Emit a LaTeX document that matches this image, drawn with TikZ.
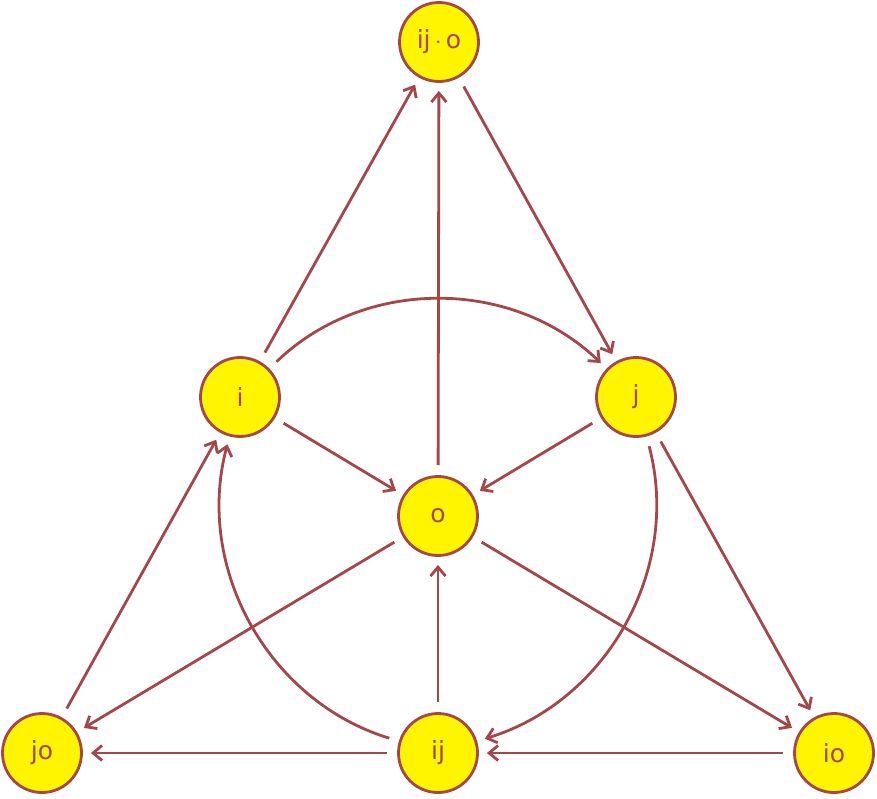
\documentclass[tikz,border=0pt]{standalone}
\usepackage{fontspec}
\setmainfont{DejaVu Sans}
\usetikzlibrary{arrows.meta}
\definecolor{edge}{RGB}{165,70,72}
\definecolor{fillc}{RGB}{255,245,0}
\begin{document}
\begin{tikzpicture}[x=1pt,y=-1pt,
  vert/.style={circle,draw=edge,line width=2.8pt,fill=fillc,minimum size=79pt,inner sep=0pt,text=edge,font=\fontsize{25}{25}\selectfont},
  conn/.style={draw=edge,line width=2.8pt,-{Straight Barb[length=9pt,width=15pt,line width=2.8pt]},shorten >=8pt,shorten <=10pt}]
\useasboundingbox (0,0) rectangle (877,798);
\node[vert] (top) at (439,42) {ij\,$\cdot$\,o};
\node[vert] (i) at (240,397) {i};
\node[vert] (j) at (636,397) {j};
\node[vert] (o) at (438,516) {o};
\node[vert] (jo) at (42,753) {jo};
\node[vert] (ij) at (438,753) {ij};
\node[vert] (io) at (834,753) {io};
\draw[conn] (i) -- (top);
\draw[conn] (o) -- (top);
\draw[conn] (top) -- (j);
\draw[conn] (i) to[bend left=44] (j);
\draw[conn] (i) -- (o);
\draw[conn] (j) -- (o);
\draw[conn] (j) -- (io);
\draw[conn] (j) to[bend left=44] (ij);
\draw[conn] (o) -- (jo);
\draw[conn] (o) -- (io);
\draw[conn] (ij) -- (o);
\draw[conn] (ij) -- (jo);
\draw[conn] (io) -- (ij);
\draw[conn] (jo) -- (i);
\draw[conn] (ij) to[bend left=44] (i);
\end{tikzpicture}
\end{document}
